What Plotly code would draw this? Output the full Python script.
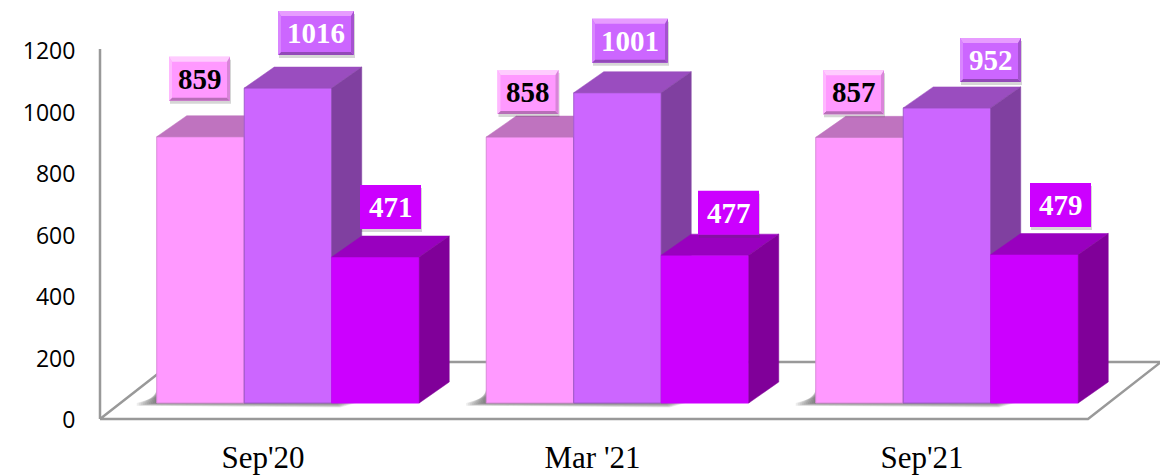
import plotly.graph_objects as go

# ---------- data ----------
categories = ["Sep'20", "Mar '21", "Sep'21"]
series_a = [859, 858, 857]
series_b = [1016, 1001, 952]
series_c = [471, 477, 479]
y_ticks = [0, 200, 400, 600, 800, 1000, 1200]

# ---------- styles ----------
FRONT = ["#FF99FF", "#CC66FF", "#CC00FF"]
TOP = ["#BF73BF", "#9A4DBF", "#9900BF"]
SIDE = ["#804D80", "#8040A0", "#800099"]
EDGE = ["#D98AD9", "#A35CCF", "#CC00FF"]
TXT = ["black", "white", "white"]
BEVEL = [
    dict(t="#FFCCFF", b="#B86EB8", l="#FFB8FF", r="#D985D9"),
    dict(t="#E79CFF", b="#9249B8", l="#D985FF", r="#A552CF"),
    None,
]
# label-box centre offsets from the top-centre of each bar (px: right, up)
LABEL_OFF = [
    [(-1, 58), (-2, 45), (-6, 45)],
    [(28, 55), (12.5, 52), (43.5, 48)],
    [(15, 50), (23.5, 42.5), (26, 49.5)],
]

# ---------- pixel geometry ----------
W, H = 1160, 475
L, B = 90, 47           # plot area runs a little past the axes so their lines are not clipped
AXIS_X_PX = 100
ZERO_PX = 418           # pixel row of value 0 on the labelled axis
BASE_PX = 403           # pixel row of value 0 for the bar fronts
GROUP_PX = 329.5
CENTER0_PX = 288.0
BAR_PX = 87.5
DX_PX, DY_PX = 30, 21
Y0_SCALE = 0.3075
BAR_SCALE = 0.31
plot_h = H - B


def px2x(p):
    return (p - CENTER0_PX) / GROUP_PX


xr = [px2x(L), px2x(W)]
bw = BAR_PX / GROUP_PX
ddx = DX_PX / GROUP_PX
ddy = DY_PX / BAR_SCALE
y_main_range = [-(plot_h - ZERO_PX) / Y0_SCALE, ZERO_PX / Y0_SCALE]
y_bar_range = [-(plot_h - BASE_PX) / BAR_SCALE, BASE_PX / BAR_SCALE]

fig = go.Figure()
groups = list(range(len(categories)))
LINE = "#999999"

# floor (main subplot)
fl_dx = 73 / GROUP_PX
fl_dy = 56 / Y0_SCALE
floor_y = -1 / Y0_SCALE
x_l, x_fr = px2x(AXIS_X_PX), px2x(1088)
fig.add_trace(go.Scatter(
    x=[x_l, x_l + fl_dx, x_fr + fl_dx, x_fr, x_l],
    y=[floor_y, fl_dy, fl_dy, floor_y, floor_y],
    mode="lines", fill="toself", fillcolor="white",
    line=dict(color=LINE, width=2.5), hoverinfo="skip", showlegend=False))
# y axis wall line
fig.add_trace(go.Scatter(
    x=[x_l, x_l], y=[floor_y, y_ticks[-1]], mode="lines",
    line=dict(color=LINE, width=2.5), hoverinfo="skip", showlegend=False))

# soft floor shadow
SHADOW_STEPS = 10
for g in groups:
    x_a = g - 1.5 * bw
    x_b = g + 0.55 * bw
    for k in range(SHADOW_STEPS):
        grow = (k + 1) * 2 / GROUP_PX
        drop = (k + 1) * 0.45 / Y0_SCALE
        base = (ZERO_PX - BASE_PX) / Y0_SCALE
        rise = (15 - k) / Y0_SCALE
        fig.add_trace(go.Scatter(
            x=[x_a - grow, x_a, x_b + grow, x_b + grow * 0.2, x_a - grow],
            y=[base, base + rise, base, base - drop, base - drop * 0.6],
            mode="lines", fill="toself", fillcolor="rgba(60,60,60,0.09)",
            line=dict(width=0), hoverinfo="skip", showlegend=False))

# bars – each series on its own overlaid axis so that it paints over the previous one
all_series = [series_a, series_b, series_c]
for s, vals in enumerate(all_series):
    yname = f"y{s + 2}"
    xs = [g + (s - 1) * bw for g in groups]
    fig.add_trace(go.Bar(
        x=xs, y=vals, width=bw, yaxis=yname, name=f"Series {s + 1}",
        marker=dict(color=FRONT[s], line=dict(color=EDGE[s], width=1)),
        showlegend=False))
    for xc, v in zip(xs, vals):
        x0, x1 = xc - bw / 2, xc + bw / 2
        # top face
        fig.add_trace(go.Scatter(
            x=[x0, x0 + ddx, x1 + ddx, x1, x0], y=[v, v + ddy, v + ddy, v, v],
            yaxis=yname, mode="lines", fill="toself", fillcolor=TOP[s],
            line=dict(width=0.5, color=TOP[s]), hoverinfo="skip", showlegend=False))
        # side face
        fig.add_trace(go.Scatter(
            x=[x1, x1 + ddx, x1 + ddx, x1, x1], y=[0, ddy, v + ddy, v, 0],
            yaxis=yname, mode="lines", fill="toself", fillcolor=SIDE[s],
            line=dict(width=0.5, color=SIDE[s]), hoverinfo="skip", showlegend=False))


def rect_path(hw, hh, ox=0, oy=0):
    return (f"M{-hw + ox},{-hh + oy} L{hw + ox},{-hh + oy} "
            f"L{hw + ox},{hh + oy} L{-hw + ox},{hh + oy} Z")


# data-label boxes and texts
shapes, annotations = [], []
for s, vals in enumerate(all_series):
    yname = f"y{s + 2}"
    for g, v in zip(groups, vals):
        xc = g + (s - 1) * bw
        ox, oy = LABEL_OFF[s][g]
        hw = 38 if v >= 1000 else 30.5
        hh = 22
        common = dict(type="path", xref="x", yref=yname, xsizemode="pixel", ysizemode="pixel",
                      xanchor=xc, yanchor=v, layer="above", line=dict(width=0))
        shapes.append(dict(path=rect_path(hw, hh, ox + 1, oy - 3),
                           fillcolor="rgba(70,70,70,0.22)", **common))
        shapes.append(dict(path=rect_path(hw, hh, ox, oy), fillcolor=FRONT[s], **common))
        bev = BEVEL[s]
        if bev:
            it, ib = 5, 3
            xa, xb, ya, yb = ox - hw, ox + hw, oy - hh, oy + hh
            faces = [
                (bev["t"], [(xa, yb), (xb, yb), (xb - ib, yb - it), (xa + ib, yb - it)]),
                (bev["b"], [(xa, ya), (xb, ya), (xb - ib, ya + ib), (xa + ib, ya + ib)]),
                (bev["l"], [(xa, ya), (xa, yb), (xa + ib, yb - it), (xa + ib, ya + ib)]),
                (bev["r"], [(xb, ya), (xb, yb), (xb - ib, yb - it), (xb - ib, ya + ib)]),
            ]
            for col, pts in faces:
                path = "M" + " L".join(f"{px},{py}" for px, py in pts) + " Z"
                shapes.append(dict(path=path, fillcolor=col, **common))
        annotations.append(dict(
            x=xc, y=v, xref="x", yref=yname, xshift=ox, yshift=oy,
            text=f"<b>{v}</b>", showarrow=False, xanchor="center", yanchor="middle",
            font=dict(family="Liberation Serif", size=29, color=TXT[s])))

bar_axis = dict(range=y_bar_range, overlaying="y", visible=False, fixedrange=True, anchor="x")
fig.update_layout(
    width=W, height=H,
    margin=dict(l=L, r=0, t=0, b=B),
    paper_bgcolor="white", plot_bgcolor="white",
    barmode="overlay", showlegend=False,
    xaxis=dict(
        range=xr, tickmode="array", automargin=False,
        tickvals=[g - 25 / GROUP_PX for g in groups], ticktext=categories,
        ticks="outside", ticklen=2, tickcolor="rgba(0,0,0,0)", showgrid=False, zeroline=False,
        showline=False, fixedrange=True,
        tickfont=dict(family="Liberation Serif", size=31, color="black")),
    yaxis=dict(
        range=y_main_range, tickmode="array", tickvals=y_ticks, automargin=False,
        ticks="outside", ticklen=9, tickcolor="rgba(0,0,0,0)", showgrid=False, zeroline=False,
        showline=False, fixedrange=True, ticklabelshift=2,
        tickfont=dict(family="Open Sans", size=23, color="black")),
    yaxis2=dict(**bar_axis), yaxis3=dict(**bar_axis), yaxis4=dict(**bar_axis),
    shapes=shapes, annotations=annotations,
)

fig.write_html("out.html", config=dict(displayModeBar=False),
               post_script="document.body.style.margin='0';document.documentElement.style.overflow='hidden';")
